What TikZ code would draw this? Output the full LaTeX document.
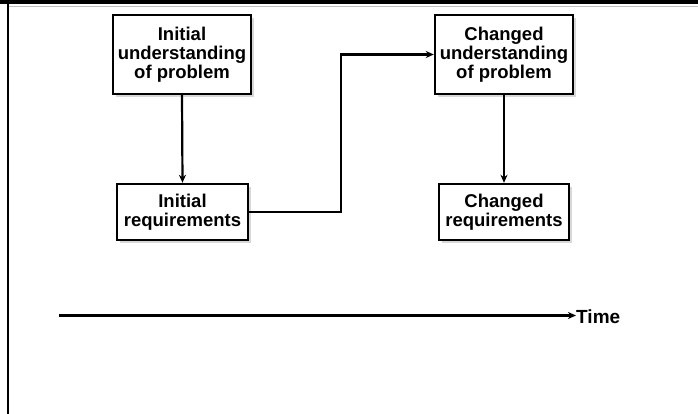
\documentclass[tikz,border=0pt]{standalone}
\usepackage{fontspec}
\setmainfont{Liberation Sans}
\usetikzlibrary{arrows.meta,shadows}
\begin{document}
\begin{tikzpicture}[x=1pt,y=-1pt,
  box/.style={draw=black, line width=2.4pt, fill=white, inner sep=0pt, align=center,
    font=\bfseries\fontsize{18.5}{19}\selectfont,
    drop shadow={shadow xshift=3pt, shadow yshift=-3pt, fill=black!30, opacity=0.5}},
  conn/.style={line width=2.2pt, -{Stealth[length=8pt,width=7pt,inset=2.5pt]}},
  lbl/.style={font=\bfseries\fontsize{19}{19}\selectfont, inner sep=0pt}]
\useasboundingbox (0,0) rectangle (698,414);
\fill[white] (0,0) rectangle (698,414);
% frame
\fill[black] (0,0) rectangle (698,4);
\draw[black!25, line width=1pt] (8,6.5) -- (698,6.5);
\draw[black, line width=2pt] (7.7,0) -- (7.7,414);
% boxes
\node[box, minimum width=138pt, minimum height=79pt] (b1) at (182,54.5) {Initial\\understanding\\of problem};
\node[box, minimum width=131pt, minimum height=56pt] (b2) at (182.5,212) {Initial\\requirements};
\node[box, minimum width=138pt, minimum height=79pt] (b3) at (504,54.5) {Changed\\understanding\\of problem};
\node[box, minimum width=130pt, minimum height=56pt] (b4) at (504,212) {Changed\\requirements};
% connectors
\coordinate (bend) at (341,0);
\draw[conn] (b1.south) -- (b2.north);
\draw[conn] (b3.south) -- (b4.north);
\draw[conn] (b2.east) -- (b2.east -| bend) |- (b3.west);
% time axis
\coordinate (tstart) at (59,315.5);
\node[lbl, anchor=west] (time) at (576,316.5) {Time};
\draw[line width=2.7pt, -{Stealth[length=8pt,width=7pt,inset=2.5pt]}] (tstart) -- (tstart -| time.west);
\end{tikzpicture}
\end{document}
